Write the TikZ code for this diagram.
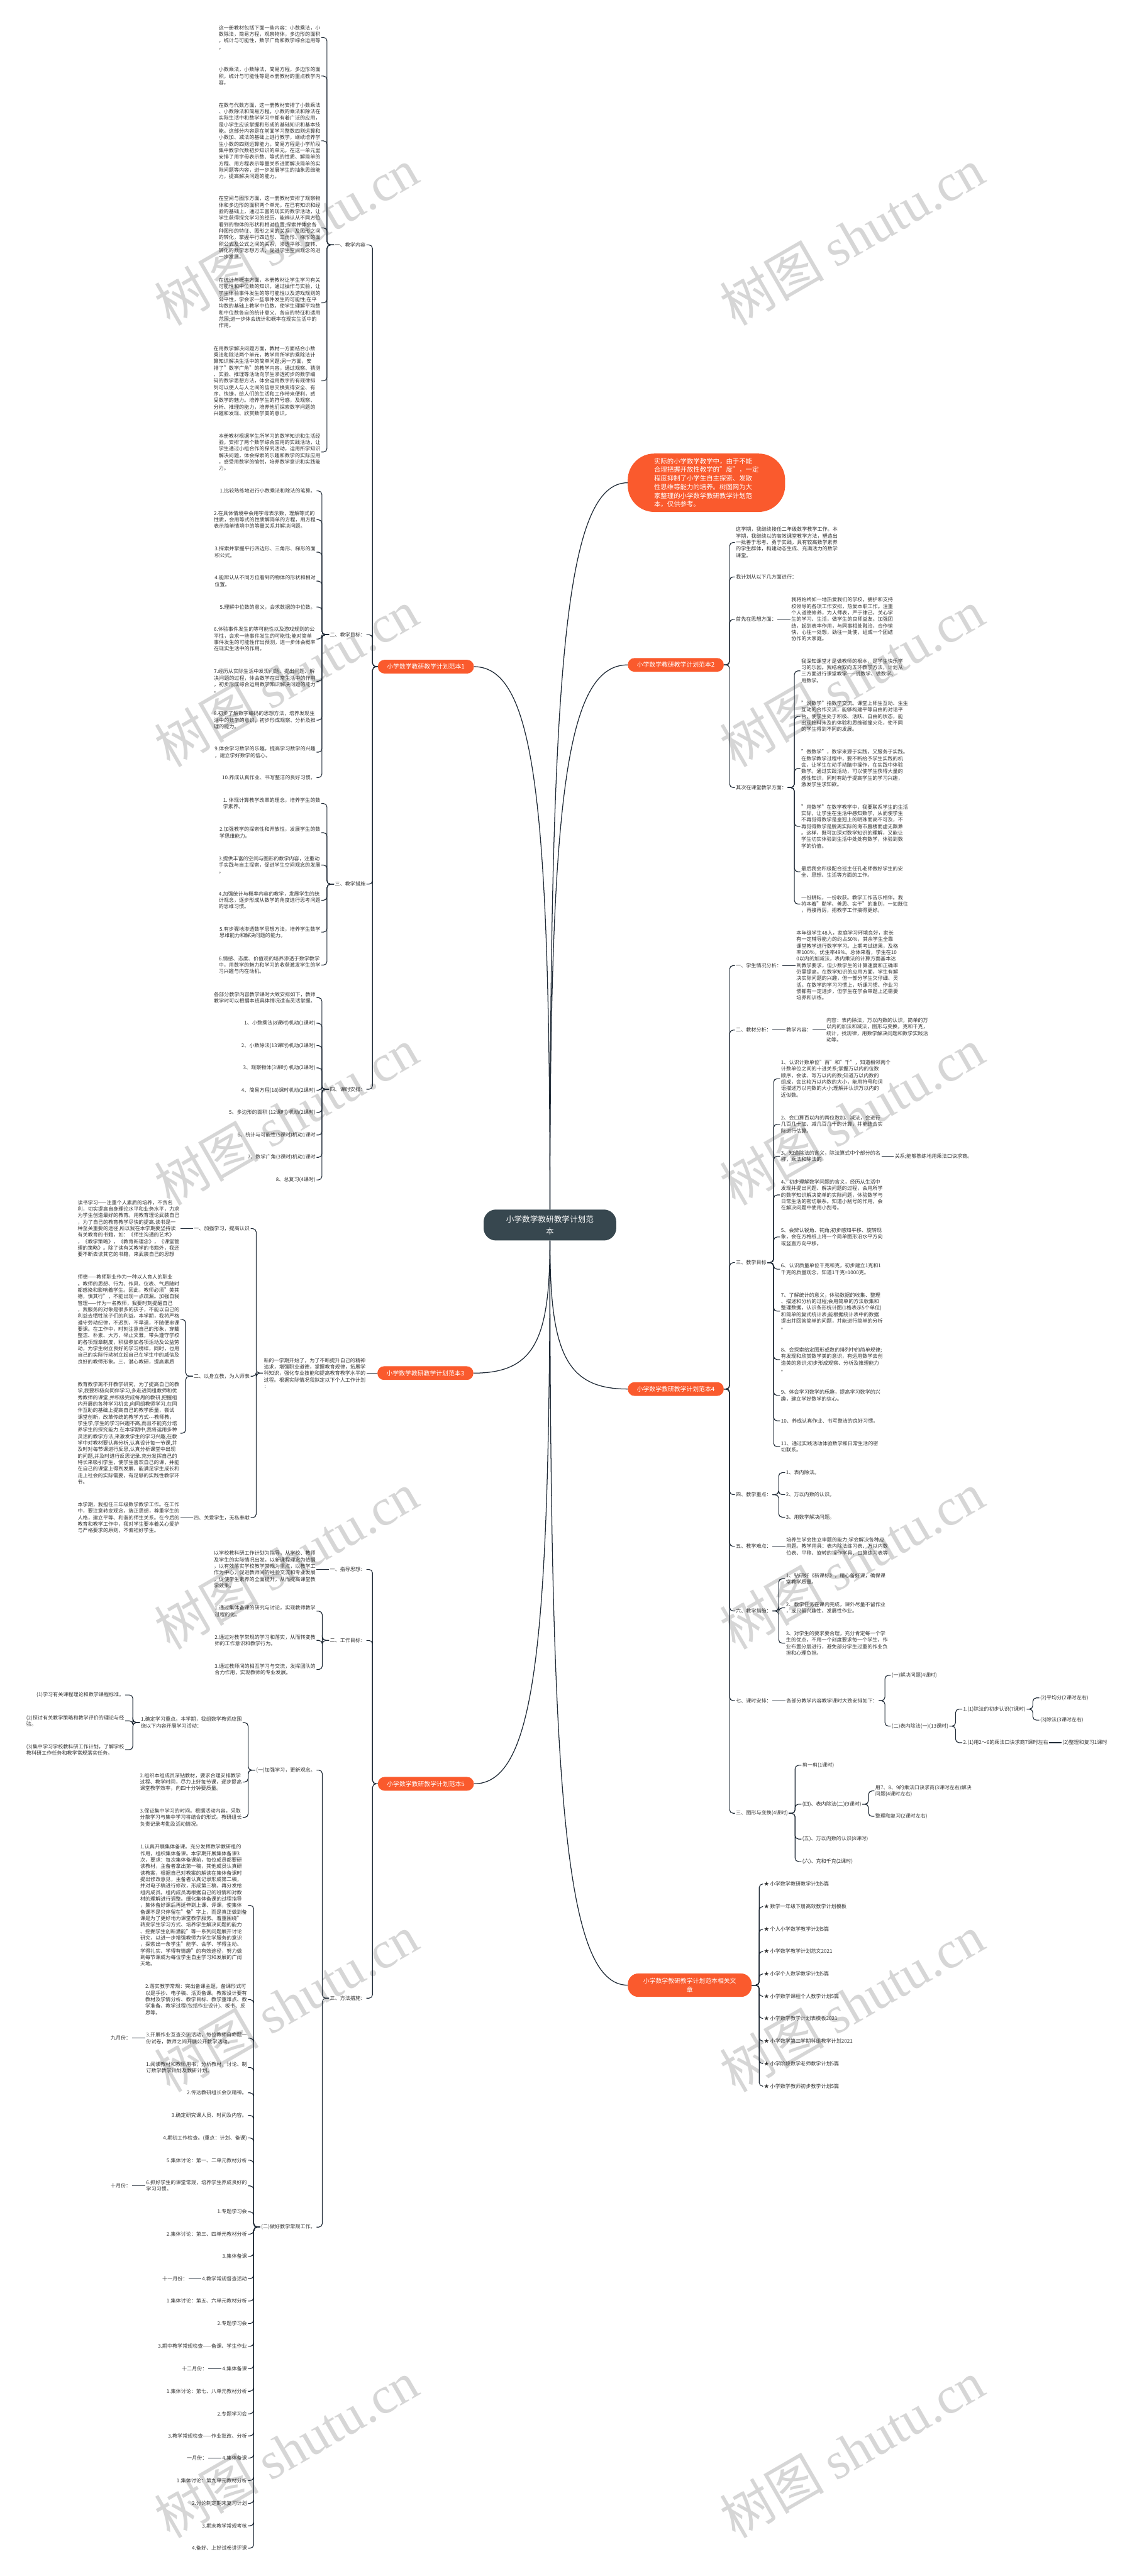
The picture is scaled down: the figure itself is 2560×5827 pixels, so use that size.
\documentclass[tikz,border=0pt]{standalone}
\usepackage{fontspec}
\setmainfont{Noto Sans CJK SC}
\newfontfamily\wmfont{Liberation Serif}
\usetikzlibrary{positioning}
\definecolor{PlanRed}{HTML}{FA5A2D}
\definecolor{HubSlate}{HTML}{37474F}
\definecolor{LinkNavy}{HTML}{1F2A36}
\definecolor{LeafInk}{HTML}{333333}
\definecolor{MarkGray}{HTML}{D6D6D6}
\newcommand\leaf{\fontsize{11.5}{14.7}\selectfont}

\begin{document}
\begin{tikzpicture}[x=1pt, y=-1pt,
    node distance=28pt,
    hub/.style={fill=HubSlate, text=white, rounded corners=28pt, align=center,
      font=\fontsize{18}{27}\selectfont, minimum width=300pt, minimum height=70pt},
    plan/.style={fill=PlanRed, text=white, rounded corners=15pt, font=\fontsize{14}{19}\selectfont,
      minimum width=217pt, minimum height=31pt, inner xsep=18pt},
    lead/.style={fill=PlanRed, text=white, rounded corners=60pt, align=left,
      font=\fontsize{14.8}{19.6}\selectfont, minimum width=356pt, minimum height=132pt},
    txt/.style={font=\leaf, text=LeafInk, align=left, inner sep=2pt},
    link/.style={draw=LinkNavy, line width=1.6pt, rounded corners=8pt},
    mainlink/.style={draw=LinkNavy, line width=1.8pt},
    wmark/.style={text=MarkGray, rotate=30, inner sep=0pt, font=\fontsize{118}{120}\selectfont}
  ]
  \useasboundingbox (0,0) rectangle (2560,5827);
  \fill[white] (0,0) rectangle (2560,5827);

  \foreach \wy in {535,1534,2526,3530,4532,5540} {
    \node[wmark] (wl\wy) at (648,\wy) {树图 {\wmfont shutu.cn}};
    \node[wmark] (wr\wy) at (1927,\wy) {树图 {\wmfont shutu.cn}};
  }

  \node[hub] (hub) at (1244,2771) {小学数学教研教学计划范\\本};
  \node[lead] (lead) at (1598,1092) {实际的小学数学教学中，由于不能\\合理把握开放性教学的"度"，一定\\程度抑制了小学生自主探索、发散\\性思维等能力的培养。树图网为大\\家整理的小学数学教研教学计划范\\本，仅供参考。};
  \node[plan, anchor=east] (p1) at (1072,1508) {小学数学教研教学计划范本1};
  \node[plan, anchor=west] (p2) at (1420,1504) {小学数学教研教学计划范本2};
  \node[plan, anchor=east] (p3) at (1071,3106) {小学数学教研教学计划范本3};
  \node[plan, anchor=west] (p4) at (1420,3142) {小学数学教研教学计划范本4};
  \node[plan, anchor=east] (p5) at (1072,4035) {小学数学教研教学计划范本5};
  \node[plan, anchor=west, align=center, rounded corners=24pt, minimum width=280pt, minimum height=53pt] (rel) at (1420,4490.5) {小学数学教研教学计划范本相关文\\章};

  \draw[mainlink] (hub.north) .. controls +(0,-1233) and +(-141,0) .. (lead.west);
  \draw[mainlink] (hub.north) .. controls +(0,-921) and +(138,0) .. (p1.east);
  \draw[mainlink] (hub.north) .. controls +(0,-924) and +(-141,0) .. (p2.west);
  \draw[mainlink] (hub.south) .. controls +(0,225) and +(138,0) .. (p3.east);
  \draw[mainlink] (hub.south) .. controls +(0,252) and +(-141,0) .. (p4.west);
  \draw[mainlink] (hub.south) .. controls +(0,922) and +(138,0) .. (p5.east);
  \draw[mainlink] (hub.south) .. controls +(0,1263) and +(-141,0) .. (rel.west);

  % plan 1
  \node[txt, anchor=east] (p1a) at (829,554) {一、教学内容};
  \node[txt, anchor=east] (p1a1) at (727,84.5) {这一册教材包括下面一些内容：小数乘法，小\\数除法，简易方程，观察物体，多边形的面积\\，统计与可能性，数学广角和数学综合运用等\\。};
  \node[txt, anchor=east] (p1a2) at (727,172) {小数乘法，小数除法，简易方程，多边形的面\\积，统计与可能性等是本册教材的重点教学内\\容。};
  \node[txt, anchor=east] (p1a3) at (727,318.5) {在数与代数方面，这一册教材安排了小数乘法\\、小数除法和简易方程。小数的乘法和除法在\\实际生活中和数学学习中都有着广泛的应用，\\是小学生应该掌握和形成的基础知识和基本技\\能。这部分内容是在前面学习整数四则运算和\\小数加、减法的基础上进行教学，继续培养学\\生小数的四则运算能力。简易方程是小学阶段\\集中教学代数初步知识的单元，在这一单元里\\安排了用字母表示数、等式的性质、解简单的\\方程、用方程表示等量关系进而解决简单的实\\际问题等内容，进一步发展学生的抽象思维能\\力，提高解决问题的能力。};
  \node[txt, anchor=east] (p1a4) at (727,515.5) {在空间与图形方面，这一册教材安排了观察物\\体和多边形的面积两个单元。在已有知识和经\\验的基础上，通过丰富的现实的数学活动，让\\学生获得探究学习的经历，能辨认从不同方位\\看到的物体的形状和相对位置;探索并体会各\\种图形的特征、图形之间的关系，及图形之间\\的转化，掌握平行四边形、三角形、梯形的面\\积公式及公式之间的关系，渗透平移、旋转、\\转化的数学思想方法，促进学生空间观念的进\\一步发展。};
  \node[txt, anchor=east] (p1a5) at (727,685) {在统计与概率方面，本册教材让学生学习有关\\可能性和中位数的知识。通过操作与实验，让\\学生体验事件发生的等可能性以及游戏规则的\\公平性，学会求一些事件发生的可能性;在平\\均数的基础上教学中位数，使学生理解平均数\\和中位数各自的统计意义、各自的特征和适用\\范围;进一步体会统计和概率在现实生活中的\\作用。};
  \node[txt, anchor=east] (p1a6) at (727,861.5) {在用数学解决问题方面，教材一方面结合小数\\乘法和除法两个单元，教学用所学的乘除法计\\算知识解决生活中的简单问题;另一方面，安\\排了"数学广角"的教学内容，通过观察、猜测\\、实验、推理等活动向学生渗透初步的数学编\\码的数学思想方法，体会运用数字的有规律排\\列可以使人与人之间的信息交换变得安全、有\\序、快捷，给人们的生活和工作带来便利，感\\受数学的魅力。培养学生的符号感，及观察、\\分析、推理的能力，培养他们探索数学问题的\\兴趣和发现、欣赏数学美的意识。};
  \node[txt, anchor=east] (p1a7) at (727,1022.5) {本册教材根据学生所学习的数学知识和生活经\\验，安排了两个数学综合应用的实践活动，让\\学生通过小组合作的探究活动，运用所学知识\\解决问题，体会探索的乐趣和数学的实际应用\\，感受用数学的愉悦，培养数学意识和实践能\\力。};

  \node[txt, anchor=east] (p1b) at (829,1435.6) {二、教学目标：};
  \node[txt, anchor=east] (p1b1) at (716,1110.5) {1.比较熟练地进行小数乘法和除法的笔算。};
  \node[txt, anchor=east] (p1b2) at (716,1175.5) {2.在具体情境中会用字母表示数，理解等式的\\性质，会用等式的性质解简单的方程，用方程\\表示简单情境中的等量关系并解决问题。};
  \node[txt, anchor=east] (p1b3) at (716,1249) {3.探索并掌握平行四边形、三角形、梯形的面\\积公式。};
  \node[txt, anchor=east] (p1b4) at (716,1314.5) {4.能辨认从不同方位看到的物体的形状和相对\\位置。};
  \node[txt, anchor=east] (p1b5) at (716,1373) {5.理解中位数的意义，会求数据的中位数。};
  \node[txt, anchor=east] (p1b6) at (716,1445.5) {6.体验事件发生的等可能性以及游戏规则的公\\平性，会求一些事件发生的可能性;能对简单\\事件发生的可能性作出预测，进一步体会概率\\在现实生活中的作用。};
  \node[txt, anchor=east] (p1b7) at (716,1541) {7.经历从实际生活中发现问题、提出问题、解\\决问题的过程，体会数学在日常生活中的作用\\，初步形成综合运用数学知识解决问题的能力\\。};
  \node[txt, anchor=east] (p1b8) at (716,1629) {8.初步了解数字编码的思想方法，培养发现生\\活中的数学的意识，初步形成观察、分析及推\\理的能力。};
  \node[txt, anchor=east] (p1b9) at (716,1701.5) {9.体会学习数学的乐趣，提高学习数学的兴趣\\，建立学好数学的信心。};
  \node[txt, anchor=east] (p1b10) at (716,1759) {10.养成认真作业、书写整洁的良好习惯。};

  \node[txt, anchor=east] (p1c) at (829,2000) {三、教学措施};
  \node[txt, anchor=east] (p1c1) at (727,1817.5) {1. 体现计算教学改革的理念，培养学生的数\\学素养。};
  \node[txt, anchor=east] (p1c2) at (727,1883.5) {2.加强教学的探索性和开放性，发展学生的数\\学思维能力。};
  \node[txt, anchor=east] (p1c3) at (727,1956.7) {3.提供丰富的空间与图形的教学内容，注重动\\手实践与自主探索，促进学生空间观念的发展\\。};
  \node[txt, anchor=east] (p1c4) at (727,2036.5) {4.加强统计与概率内容的教学，发展学生的统\\计观念，逐步形成从数学的角度进行思考问题\\的思维习惯。};
  \node[txt, anchor=east] (p1c5) at (727,2108.5) {5.有步骤地渗透数学思想方法，培养学生数学\\思维能力和解决问题的能力。};
  \node[txt, anchor=east] (p1c6) at (727,2183) {6.情感、态度、价值观的培养渗透于数学教学\\中，用数学的魅力和学习的收获激发学生的学\\习兴趣与内在动机。};

  \node[txt, anchor=east] (p1d) at (829,2464) {四、课时安排：};
  \node[txt, anchor=east] (p1d1) at (716,2256.5) {各部分教学内容教学课时大致安排如下，教师\\教学时可以根据本班具体情况适当灵活掌握。};
  \node[txt, anchor=east] (p1d2) at (716,2314.6) {1、小数乘法(8课时)机动(1课时)};
  \node[txt, anchor=east] (p1d3) at (716,2365) {2、小数除法(13课时)机动(2课时)};
  \node[txt, anchor=east] (p1d4) at (716,2415.6) {3、观察物体(3课时) 机动(2课时)};
  \node[txt, anchor=east] (p1d5) at (716,2466) {4、简易方程(18)课时机动(2课时)};
  \node[txt, anchor=east] (p1d6) at (716,2516.6) {5、多边形的面积 (12课时) 机动(2课时)};
  \node[txt, anchor=east] (p1d7) at (716,2567.5) {6、统计与可能性(5课时)机动1课时};
  \node[txt, anchor=east] (p1d8) at (716,2618) {7、数学广角(3课时)机动1课时};
  \node[txt, anchor=east] (p1d9) at (716,2669) {8、总复习(4课时)};

  \foreach \i in {p1a,p1b,p1c,p1d} \draw[link] (p1.west) -- ++(-12,0) |- (\i.east);
  \foreach \i in {1,...,7} \draw[link] (p1a.west) -- ++(-16,0) |- (p1a\i.east);
  \foreach \i in {1,...,10} \draw[link] (p1b.west) -- ++(-16,0) |- (p1b\i.east);
  \foreach \i in {1,...,6} \draw[link] (p1c.west) -- ++(-16,0) |- (p1c\i.east);
  \foreach \i in {1,...,9} \draw[link] (p1d.west) -- ++(-16,0) |- (p1d\i.east);

  % plan 2
  \node[txt, anchor=west] (p2a) at (1662.5,1227) {这学期，我继续接任二年级数学教学工作。本\\学期，我继续以的高效课堂教学方法，塑造出\\一批善于思考、勇于实践，具有较高数学素养\\的学生群体，构建动态生成、充满活力的数学\\课堂。};
  \node[txt, anchor=west] (p2b) at (1662.5,1305) {我计划从以下几方面进行：};
  \node[txt, anchor=west] (p2c) at (1662.5,1401) {首先在思想方面：};
  \node[txt, right=29pt of p2c] (p2c1) {我将始终如一地热爱我们的学校，拥护和支持\\校领导的各项工作安排，热爱本职工作。注重\\个人道德修养，为人师表，严于律己，关心学\\生的学习、生活，做学生的良师益友。加强团\\结，起到表率作用，与同事相处融洽，合作愉\\快，心往一处想，劲往一处使，组成一个团结\\协作的大家庭。};
  \node[txt, anchor=west] (p2d) at (1662.5,1781.5) {其次在课堂教学方面：};
  \node[txt, anchor=west] (p2d1) at (1810.5,1517.5) {我深知课堂才是做教师的根本，是学生快乐学\\习的乐园。我结合双向五环教学方法，计划从\\三方面进行课堂教学——说数学、做数学、\\用数学。};
  \node[txt, anchor=west] (p2d2) at (1810.5,1620.5) {"说数学"指数学交流。课堂上师生互动、生生\\互动的合作交流，能够构建平等自由的对话平\\台，使学生处于积极、活跃、自由的状态，能\\出现始料未及的体验和思维碰撞火花，使不同\\的学生得到不同的发展。};
  \node[txt, anchor=west] (p2d3) at (1810.5,1738) {"做数学"，数学来源于实践，又服务于实践。\\在数学教学过程中，要不断给予学生实践的机\\会，让学生在动手动脑中操作，在实践中体验\\数学。通过实践活动，可以使学生获得大量的\\感性知识，同时有助于提高学生的学习兴趣，\\激发学生求知欲。};
  \node[txt, anchor=west] (p2d4) at (1810.5,1869.5) {"用数学"在数学教学中，我要联系学生的生活\\实际，让学生在生活中感知数学，从而使学生\\不再觉得数学是皇冠上的明珠而高不可及，不\\再觉得数学是脱离实际的海市蜃楼而虚无飘渺\\。这样，既可加深对数学知识的理解，又能让\\学生切实体验到生活中处处有数学，体验到数\\学的价值。};
  \node[txt, anchor=west] (p2d5) at (1810.5,1972) {最后我会积极配合班主任孔老师做好学生的安\\全、思想、生活等方面的工作。};
  \node[txt, anchor=west] (p2d6) at (1810.5,2045) {一份耕耘，一份收获。教学工作苦乐相伴。我\\将本着"勤学、善思、实干"的准则，一如既往\\，再接再厉，把教学工作搞得更好。};

  \foreach \i in {p2a,p2b,p2c,p2d} \draw[link] (p2.east) -- ++(13,0) |- (\i.west);
  \draw[link] (p2c.east) -- (p2c1.west);
  \foreach \i in {1,...,6} \draw[link] (p2d.east) -- ++(15,0) |- (p2d\i.west);

  % plan 3
  \node[txt, anchor=east] (p3x) at (829,3106) {新的一学期开始了，为了不断提升自己的精神\\追求，增强职业道德，掌握教育规律，拓展学\\科知识，强化专业技能和提高教育教学水平的\\过程。根据实际情况我拟定以下个人工作计划\\：};
  \node[txt, anchor=east] (p3a) at (567,2779) {一、加强学习，提高认识};
  \node[txt, left=28pt of p3a] (p3a1) {读书学习——注重个人素质的培养，不贪名\\利，切实提高自身理论水平和业务水平，力求\\为学生创造最好的教育。用教育理论武装自己\\，为了自己的教育教学尽快的提高.读书是一\\种至关重要的途径,所以我在本学期要坚持读\\有关教育的书籍，如：《师生沟通的艺术》\\，《教学策略》，《教育新理念》，《课堂管\\理的策略》。除了读有关教学的书籍外，我还\\要不断去读其它的书籍，来武装自己的思想};
  \node[txt, anchor=east] (p3b) at (567,3113) {二、以身立教，为人师表};
  \node[txt, anchor=east] (p3b1) at (408,2984.5) {师德——教师职业作为一种以人育人的职业\\。教师的思想、行为、作风、仪表、气质随时\\都感染和影响着学生。因此，教师必须"美其\\德，慎其行"，不能出现一点疏漏。加强自我\\管理——作为一名教师，我要时刻提醒自己\\，我服务的对象是很多的孩子，不能以自己的\\利益去牺牲孩子们的利益。本学期，我将严格\\遵守劳动纪律，不迟到，不早退，不随便串课\\要课。在工作中，时刻注意自己的形象，穿戴\\整洁、朴素、大方，举止文雅，带头遵守学校\\的各项规章制度，积极参加各项活动及公益劳\\动，为学生树立良好的学习榜样，同时，也用\\自己的实际行动树立起自己在学生中的威信及\\良好的教师形象。三、潜心教研，提高素质};
  \node[txt, anchor=east] (p3b2) at (408,3242) {教育教学离不开教学研究，为了提高自己的教\\学,我要积极向同伴学习,多走进同组教师和优\\秀教师的课堂,并积极完成每周的教研,把握组\\内开展的各种学习机会,向同组教师学习.在同\\伴互助的基础上提高自己的教学质量，尝试\\课堂创新，改革传统的教学方式-{}-{}-教师教，\\学生学,学生的学习兴趣不高,而且不能充分培\\养学生的探究能力.在本学期中,我将运用多种\\灵活的教学方法,来激发学生的学习兴趣,在教\\学中对教材要认真分析,认真设计每一节课,并\\及时对每节课进行反思,认真分析课堂中出现\\的问题,并及时进行反思记录.充分发挥自己的\\特长来吸引学生，使学生喜欢自己的课，并能\\在自己的课堂上得到发展，能满足学生成长和\\走上社会的实际需要，有足够的实践性教学环\\节。};
  \node[txt, anchor=east] (p3c) at (567,3433) {四、关爱学生，无私奉献};
  \node[txt, left=28pt of p3c] (p3c1) {本学期，我担任三年级数学教学工作。在工作\\中，要注意转变观念，端正思想，尊重学生的\\人格，建立平等、和谐的师生关系。在今后的\\教育和教学工作中，我对学生要本着关心爱护\\与严格要求的原则，不偏袒好学生。};

  \draw[link] (p3.west) -- (p3x.east);
  \foreach \i in {p3a,p3b,p3c} \draw[link] (p3x.west) -- ++(-15,0) |- (\i.east);
  \draw[link] (p3a.west) -- (p3a1.east);
  \foreach \i in {1,2} \draw[link] (p3b.west) -- ++(-16,0) |- (p3b\i.east);
  \draw[link] (p3c.west) -- (p3c1.east);

  % plan 4
  \node[txt, anchor=west] (p4a) at (1662.5,2184) {一、学生情况分析：};
  \node[txt, right=29pt of p4a] (p4a1) {本年级学生48人，家庭学习环境良好，家长\\有一定辅导能力的约占50\%，其余学生全靠\\课堂教学进行数学学习。上期考试结果，及格\\率100\%，优生率49\%。总体来看，学生在10\\0以内的加减法，表内乘法的计算方面基本达\\到教学要求，但少数学生的计算速度和正确率\\仍需提高。在数学知识的应用方面，学生有解\\决实际问题的兴趣，但一部分学生欠仔细、灵\\活。在数学的学习习惯上，听课习惯、作业习\\惯都有一定进步，但学生在学会审题上还需要\\培养和训练。};
  \node[txt, anchor=west] (p4b) at (1662.5,2330) {二、教材分析：};
  \node[txt, right=29pt of p4b] (p4bx) {教学内容：};
  \node[txt, right=29pt of p4bx] (p4b1) {内容：表内除法，万以内数的认识，简单的万\\以内的加法和减法，图形与变换，克和千克，\\统计，找规律，用数学解决问题和数学实践活\\动等。};
  \node[txt, anchor=west] (p4c) at (1662.5,2856) {三、教学目标};
  \node[txt, anchor=west] (p4c1) at (1764.6,2440) {1、认识计数单位"百"和"千"，知道相邻两个\\计数单位之间的十进关系;掌握万以内的位数\\顺序，会读、写万以内的数;知道万以内数的\\组成，会比较万以内数的大小，能用符号和词\\语描述万以内数的大小;理解并认识万以内的\\近似数。};
  \node[txt, anchor=west] (p4c2) at (1764.6,2543) {2、会口算百以内的两位数加、减法，会进行\\几百几十加、减几百几十的计算，并能结合实\\际进行估算。};
  \node[txt, anchor=west] (p4c3) at (1764.6,2615.5) {3、知道除法的含义，除法算式中个部分的名\\称，乘法和除法的};
  \node[txt, right=28pt of p4c3] (p4c3x) {关系;能够熟练地用乘法口诀求商。};
  \node[txt, anchor=west] (p4c4) at (1764.6,2703) {4、初步理解数学问题的含义，经历从生活中\\发现并提出问题、解决问题的过程，会用所学\\的数学知识解决简单的实际问题，体验数学与\\日常生活的密切联系。知道小刮号的作用，会\\在解决问题中使用小刮号。};
  \node[txt, anchor=west] (p4c5) at (1764.6,2798) {5、会辨认锐角、钝角;初步感知平移、旋转现\\象，会在方格纸上将一个简单图形沿水平方向\\或竖直方向平移。};
  \node[txt, anchor=west] (p4c6) at (1764.6,2871) {6、认识质量单位千克和克，初步建立1克和1\\千克的质量观念，知道1千克=1000克。};
  \node[txt, anchor=west] (p4c7) at (1764.6,2966) {7、了解统计的意义，体验数据的收集、整理\\、描述和分析的过程;会用简单的方法收集和\\整理数据，认识条形统计图(1格表示5个单位)\\和简单的复式统计表;能根据统计表中的数据\\提出并回答简单的问题，并能进行简单的分析\\。};
  \node[txt, anchor=west] (p4c8) at (1764.6,3075.5) {8、会探索给定图形或数的排列中的简单规律;\\有发现和欣赏数学美的意识，有运用数学去创\\造美的意识;初步形成观察、分析及推理能力\\。};
  \node[txt, anchor=west] (p4c9) at (1764.6,3156.5) {9、体会学习数学的乐趣，提高学习数学的兴\\趣，建立学好数学的信心。};
  \node[txt, anchor=west] (p4c10) at (1764.6,3214) {10、养成认真作业、书写整洁的良好习惯。};
  \node[txt, anchor=west] (p4c11) at (1764.6,3272.5) {11、通过实践活动体验数学和日常生活的密\\切联系。};
  \node[txt, anchor=west] (p4d) at (1662.5,3381) {四、教学重点：};
  \node[txt, anchor=west] (p4d1) at (1776,3331) {1、表内除法。};
  \node[txt, anchor=west] (p4d2) at (1776,3381) {2、万以内数的认识。};
  \node[txt, anchor=west] (p4d3) at (1776,3432) {3、用数学解决问题。};
  \node[txt, anchor=west] (p4e) at (1662.5,3498) {五、教学难点：};
  \node[txt, right=29pt of p4e] (p4e1) {培养生学会独立审题的能力;学会解决各种应\\用题。教学用具：表内除法练习表、万以内数\\位表、平移、旋转的操作学具、口算练习表等};
  \node[txt, anchor=west] (p4f) at (1662.5,3644) {六、教学措施：};
  \node[txt, anchor=west] (p4f1) at (1776,3571) {1、钻研好《新课标》，精心备好课，确保课\\堂教学质量。};
  \node[txt, anchor=west] (p4f2) at (1776,3637) {2、教学任务在课内完成，课外尽量不留作业\\，或只留兴趣性、发展性作业。};
  \node[txt, anchor=west] (p4f3) at (1776,3717) {3、对学生的要求要合理，充分肯定每一个学\\生的优点，不用一个刻度要求每一个学生，作\\业布置分层进行，避免部分学生过重的作业负\\担和心理负担。};
  \node[txt, anchor=west] (p4g) at (1662.5,3847) {七、课时安排：};
  \node[txt, right=29pt of p4g] (p4gx) {各部分教学内容教学课时大致安排如下：};
  \node[txt, anchor=west] (p4g1) at (2015,3789.5) {(一)解决问题(4课时)};
  \node[txt, anchor=west] (p4g2) at (2015,3904.5) {(二)表内除法(一)(13课时)};
  \node[txt, anchor=west] (p4g21) at (2176.6,3866) {1.(1)除法的初步认识(7课时)};
  \node[txt, anchor=west] (p4g211) at (2351,3840.6) {(2)平均分(2课时左右)};
  \node[txt, anchor=west] (p4g212) at (2351,3891) {(3)除法(3课时左右)};
  \node[txt, anchor=west] (p4g22) at (2176.6,3942) {2.(1)用2～6的乘法口诀求商7课时左右};
  \node[txt, right=28pt of p4g22] (p4g22x) {(2)整理和复习1课时};
  \node[txt, anchor=west] (p4h) at (1662.5,4101.7) {三、图形与变换(4课时)};
  \node[txt, anchor=west] (p4h1) at (1813,3993) {剪一剪(1课时)};
  \node[txt, anchor=west] (p4h2) at (1813,4081) {(四)、表内除法(二)(9课时)};
  \node[txt, anchor=west] (p4h21) at (1978,4051) {用7、8、9的乘法口诀求商(3课时左右)解决\\问题(4课时左右)};
  \node[txt, anchor=west] (p4h22) at (1978,4108.7) {整理和复习(2课时左右)};
  \node[txt, anchor=west] (p4h3) at (1813,4160) {(五)、万以内数的认识(8课时)};
  \node[txt, anchor=west] (p4h4) at (1813,4211) {(六)、克和千克(2课时)};

  \foreach \i in {p4a,p4b,p4c,p4d,p4e,p4f,p4g,p4h} \draw[link] (p4.east) -- ++(13,0) |- (\i.west);
  \draw[link] (p4a.east) -- (p4a1.west);
  \draw[link] (p4b.east) -- (p4bx.west);
  \draw[link] (p4bx.east) -- (p4b1.west);
  \foreach \i in {1,...,11} \draw[link] (p4c.east) -- ++(14,0) |- (p4c\i.west);
  \draw[link] (p4c3.east) -- (p4c3x.west);
  \foreach \i in {1,2,3} \draw[link] (p4d.east) -- ++(14,0) |- (p4d\i.west);
  \draw[link] (p4e.east) -- (p4e1.west);
  \foreach \i in {1,2,3} \draw[link] (p4f.east) -- ++(14,0) |- (p4f\i.west);
  \draw[link] (p4g.east) -- (p4gx.west);
  \foreach \i in {p4g1,p4g2} \draw[link] (p4gx.east) -- ++(14,0) |- (\i.west);
  \foreach \i in {p4g21,p4g22} \draw[link] (p4g2.east) -- ++(14,0) |- (\i.west);
  \foreach \i in {p4g211,p4g212} \draw[link] (p4g21.east) -- ++(14,0) |- (\i.west);
  \draw[link] (p4g22.east) -- (p4g22x.west);
  \foreach \i in {1,...,4} \draw[link] (p4h.east) -- ++(14,0) |- (p4h\i.west);
  \foreach \i in {p4h21,p4h22} \draw[link] (p4h2.east) -- ++(14,0) |- (\i.west);

  % plan 5
  \node[txt, anchor=east] (p5a) at (829,3550) {一、指导思想：};
  \node[txt, left=28pt of p5a] (p5a1) {以学校教科研工作计划为指导，从学校、教师\\及学生的实际情况出发，以新课程理念为依据\\，以有效落实学校教学常规为重点，以教学工\\作为中心，促进教师间的经验交流和专业发展\\，促使学生素养的全面提升，从而提高课堂教\\学效果。};
  \node[txt, anchor=east] (p5b) at (829,3710.6) {二、工作目标：};
  \node[txt, anchor=east] (p5b1) at (716,3644.5) {1.通过集体备课的研究与讨论，实现教师教学\\过程的化。};
  \node[txt, anchor=east] (p5b2) at (716,3710.5) {2.通过对教学常规的学习和落实，从而转变教\\师的工作意识和教学行为。};
  \node[txt, anchor=east] (p5b3) at (716,3776.5) {3.通过教师间的相互学习与交流，发挥团队的\\合力作用，实现教师的专业发展。};
  \node[txt, anchor=east] (p5c) at (829,4520) {三、方法措施：};
  \node[txt, anchor=east] (p5c1) at (716,4004) {(一)加强学习，更新观念。};
  \node[txt, anchor=east] (p5c1a) at (549,3896.5) {1.确定学习重点。本学期，我组数学教师应围\\绕以下内容开展学习活动：};
  \node[txt, anchor=east] (p5c1a1) at (283,3834) {(1)学习有关课程理论和数学课程标准。};
  \node[txt, anchor=east] (p5c1a2) at (283,3892.5) {(2)探讨有关教学策略和教学评价的理论与经\\验。};
  \node[txt, anchor=east] (p5c1a3) at (283,3958) {(3)集中学习学校教科研工作计划，了解学校\\教科研工作任务和教学常规落实任务。};
  \node[txt, anchor=east] (p5c1b) at (549,4031) {2.组织本组成员深钻教材，要求合理安排教学\\过程、教学时间，尽力上好每节课，逐步提高\\课堂教学效率，向四十分钟要质量。};
  \node[txt, anchor=east] (p5c1c) at (549,4111) {3.保证集中学习的时间。根据活动内容，采取\\分散学习与集中学习将结合的形式。教研组长\\负责记录考勤及活动情况。};
  \node[txt, anchor=east] (p5c2) at (716,5037.7) {(二)做好教学常规工作。};
  \node[txt, anchor=east] (r1) at (561,4310) {1.认真开展集体备课。充分发挥数学教研组的\\作用，组织集体备课。本学期开展集体备课3\\次，要求：每次集体备课前，每位成员都要研\\读教材，主备者拿出第一稿，其他成员认真研\\读教案，根据自己对教案的解读在集体备课时\\提出修改意见，主备者认真记录形成第二稿，\\并对电子稿进行修改，形成第三稿，再分发给\\组内成员。组内成员再根据自己的班情和对教\\材的理解进行调整。细化集体备课的过程指导\\，集体备好课后再延伸到上课、评课，使集体\\备课不是只停留在"备"字上，而是真正做到备\\课是为了更好地为课堂教学服务。着重围绕"\\转变学生学习方式、培养学生解决问题的能力\\、挖掘学生创新潜能"等一系列问题展开讨论\\研究，以进一步增强教师为学生学服务的意识\\，探索出一条学生"能学、会学、学得主动、\\学得扎实、学得有情趣"的有效途径，努力做\\到每节课成为每位学生自主学习和发展的广阔\\天地。};
  \node[txt, anchor=east] (r2) at (561,4523) {2.落实教学常规：突出备课主题，备课形式可\\以是手抄、电子稿、活页备课。教案设计要有\\教材及学情分析、教学目标、教学重难点、教\\学准备、教学过程(包括作业设计)、板书、反\\思等。};
  \node[txt, anchor=east] (r3) at (561,4610.5) {3.开展作业互查交流活动，每位教师自命题一\\份试卷，教师之间开展公开教学活动。};
  \node[txt, anchor=east] (r4) at (561,4676.5) {1.阅读教材和教师用书，分析教材，讨论、制\\订数学教学计划及教研计划。};
  \node[txt, anchor=east] (r5) at (561,4734) {2.传达教研组长会议精神。};
  \node[txt, anchor=east] (r6) at (561,4785) {3.确定研究课人员、时间及内容。};
  \node[txt, anchor=east] (r7) at (561,4836) {4.期初工作检查。(重点：计划、备课)};
  \node[txt, anchor=east] (r8) at (561,4886.5) {5.集体讨论：第一、二单元教材分析};
  \node[txt, anchor=east] (r9) at (561,4944.5) {6.抓好学生的课堂常规，培养学生养成良好的\\学习习惯。};
  \node[txt, anchor=east] (r10) at (561,5003) {1.专题学习会};
  \node[txt, anchor=east] (r11) at (561,5053.6) {2.集体讨论：第三、四单元教材分析};
  \node[txt, anchor=east] (r12) at (561,5104) {3.集体备课};
  \node[txt, anchor=east] (r13) at (561,5154.4) {4.教学常规督查活动};
  \node[txt, anchor=east] (r14) at (561,5205) {1.集体讨论：第五、六单元教材分析};
  \node[txt, anchor=east] (r15) at (561,5256) {2.专题学习会};
  \node[txt, anchor=east] (r16) at (561,5307.5) {3.期中教学常规检查——备课、学生作业};
  \node[txt, anchor=east] (r17) at (561,5358) {4.集体备课};
  \node[txt, anchor=east] (r18) at (561,5409) {1.集体讨论：第七、八单元教材分析};
  \node[txt, anchor=east] (r19) at (561,5460) {2.专题学习会};
  \node[txt, anchor=east] (r20) at (561,5510) {3.教学常规检查——作业批改、分析};
  \node[txt, anchor=east] (r21) at (561,5560) {4.集体备课};
  \node[txt, anchor=east] (r22) at (561,5611) {1.集体讨论：第九单元教材分析};
  \node[txt, anchor=east] (r23) at (561,5662.6) {2.讨论制定期末复习计划};
  \node[txt, anchor=east] (r24) at (561,5713.5) {3.期末教学常规考核};
  \node[txt, anchor=east] (r25) at (561,5764) {4.备好、上好试卷讲评课};
  \node[txt, left=30pt of r3] (m9) {九月份：};
  \node[txt, left=30pt of r9] (m10) {十月份：};
  \node[txt, left=28pt of r13] (m11) {十一月份：};
  \node[txt, left=30pt of r17] (m12) {十二月份：};
  \node[txt, left=30pt of r21] (m1) {一月份：};

  \foreach \i in {p5a,p5b,p5c} \draw[link] (p5.west) -- ++(-12,0) |- (\i.east);
  \draw[link] (p5a.west) -- (p5a1.east);
  \foreach \i in {1,2,3} \draw[link] (p5b.west) -- ++(-15,0) |- (p5b\i.east);
  \foreach \i in {p5c1,p5c2} \draw[link] (p5c.west) -- ++(-15,0) |- (\i.east);
  \foreach \i in {p5c1a,p5c1b,p5c1c} \draw[link] (p5c1.west) -- ++(-16,0) |- (\i.east);
  \foreach \i in {1,2,3} \draw[link] (p5c1a.west) -- ++(-16,0) |- (p5c1a\i.east);
  \foreach \i in {1,...,25} \draw[link] (p5c2.west) -- ++(-15,0) |- (r\i.east);
  \draw[link] (r3.west) -- (m9.east);
  \draw[link] (r9.west) -- (m10.east);
  \draw[link] (r13.west) -- (m11.east);
  \draw[link] (r17.west) -- (m12.east);
  \draw[link] (r21.west) -- (m1.east);

  % related articles
  \node[txt, anchor=west] (rel1) at (1726,4261.6) {★ 小学数学教研教学计划5篇};
  \node[txt, anchor=west] (rel2) at (1726,4312.6) {★ 数学一年级下册高效教学计划模板};
  \node[txt, anchor=west] (rel3) at (1726,4363.7) {★ 个人小学数学教学计划5篇};
  \node[txt, anchor=west] (rel4) at (1726,4414) {★ 小学数学教学计划范文2021};
  \node[txt, anchor=west] (rel5) at (1726,4465) {★ 小学个人数学教学计划5篇};
  \node[txt, anchor=west] (rel6) at (1726,4516) {★ 小学数学课程个人教学计划5篇};
  \node[txt, anchor=west] (rel7) at (1726,4566) {★ 小学数学教学计划表模板2021};
  \node[txt, anchor=west] (rel8) at (1726,4617) {★ 小学数学第二学期科组教学计划2021};
  \node[txt, anchor=west] (rel9) at (1726,4668) {★ 小学阶段数学老师教学计划5篇};
  \node[txt, anchor=west] (rel10) at (1726,4719) {★ 小学数学教师初步教学计划5篇};
  \foreach \i in {1,...,10} \draw[link] (rel.east) -- ++(17,0) |- (rel\i.west);
\end{tikzpicture}
\end{document}
